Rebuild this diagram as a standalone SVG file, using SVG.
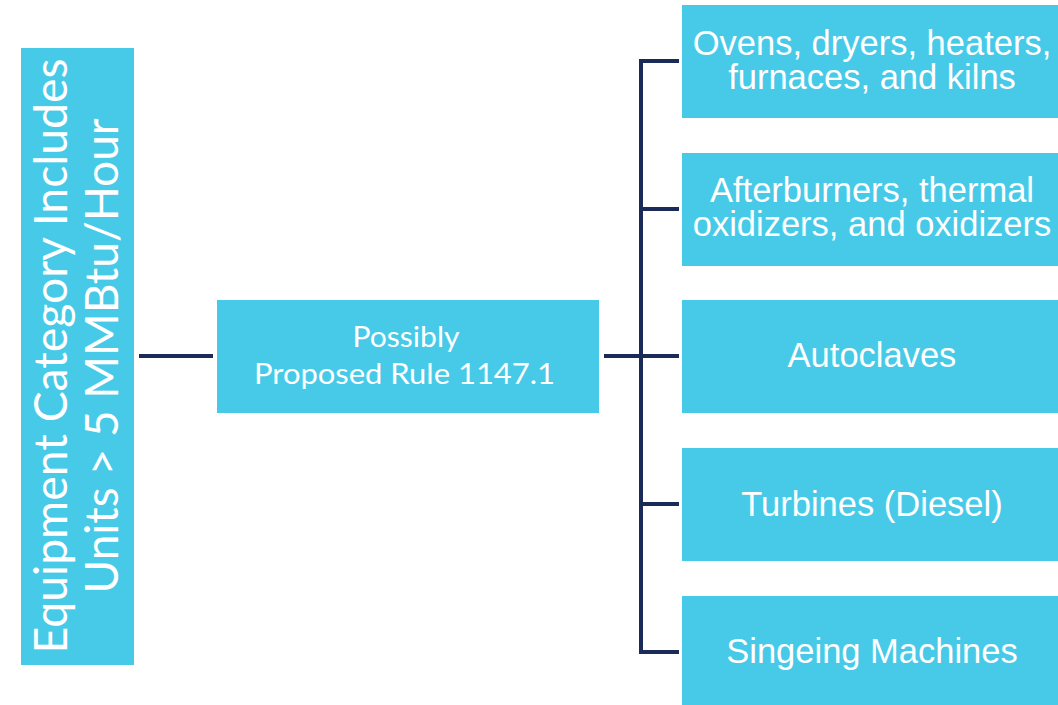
<svg xmlns="http://www.w3.org/2000/svg" width="1058" height="705" viewBox="0 0 1058 705">
<style>
.box{fill:#47cae8}
.conn{stroke:#1a2b5a;stroke-width:4;fill:none;stroke-linecap:square}
.gill{font-family:"Lato","Open Sans",sans-serif;fill:#ffffff}
.ar{font-family:"Liberation Sans",Arial,sans-serif;font-size:34.5px;fill:#ffffff;text-anchor:middle}
</style>
<rect width="1058" height="705" fill="#ffffff"/>
<g id="connectors">
<line class="conn" x1="141" y1="356" x2="211" y2="356"/>
<line class="conn" x1="606" y1="356" x2="641" y2="356"/>
<line class="conn" x1="641" y1="61" x2="641" y2="652"/>
<line class="conn" x1="641" y1="61" x2="677" y2="61"/>
<line class="conn" x1="641" y1="209" x2="677" y2="209"/>
<line class="conn" x1="641" y1="356" x2="677" y2="356"/>
<line class="conn" x1="641" y1="504" x2="677" y2="504"/>
<line class="conn" x1="641" y1="652" x2="677" y2="652"/>
</g>
<g id="node-equipment">
<rect class="box" x="21" y="48" width="113" height="617"/>
<g transform="translate(0,356) rotate(-90)">
<text class="gill" x="0" y="67" font-size="47" text-anchor="middle" textLength="595" lengthAdjust="spacingAndGlyphs">Equipment Category Includes</text>
<text class="gill" x="0" y="118" font-size="47" text-anchor="middle" textLength="475" lengthAdjust="spacingAndGlyphs">Units &gt; 5 MMBtu/Hour</text>
</g>
</g>
<g id="node-rule">
<rect class="box" x="217" y="300" width="382" height="113"/>
<text class="gill" x="406" y="347" font-size="29" text-anchor="middle" textLength="107" lengthAdjust="spacingAndGlyphs">Possibly</text>
<text class="gill" x="404.5" y="384" font-size="29" text-anchor="middle" textLength="301" lengthAdjust="spacingAndGlyphs">Proposed Rule 1147.1</text>
</g>
<g id="node-ovens">
<rect class="box" x="682" y="5" width="380" height="113"/>
<text class="ar" x="872" y="55">Ovens, dryers, heaters,</text>
<text class="ar" x="872" y="89">furnaces, and kilns</text>
</g>
<g id="node-afterburners">
<rect class="box" x="682" y="153" width="380" height="113"/>
<text class="ar" x="872" y="202">Afterburners, thermal</text>
<text class="ar" x="872" y="236">oxidizers, and oxidizers</text>
</g>
<g id="node-autoclaves">
<rect class="box" x="682" y="300" width="380" height="113"/>
<text class="ar" x="872" y="367">Autoclaves</text>
</g>
<g id="node-turbines">
<rect class="box" x="682" y="448" width="380" height="113"/>
<text class="ar" x="872" y="516">Turbines (Diesel)</text>
</g>
<g id="node-singeing">
<rect class="box" x="682" y="596" width="380" height="113"/>
<text class="ar" x="872" y="663">Singeing Machines</text>
</g>
</svg>
